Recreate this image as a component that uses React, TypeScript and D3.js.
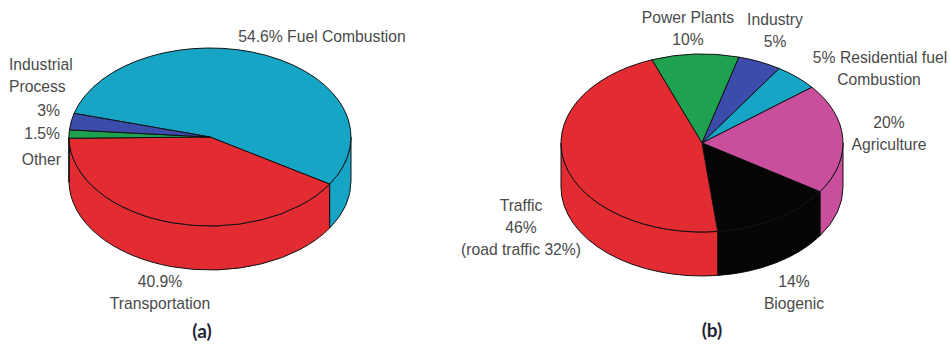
import React from "react";
import * as d3 from "d3";

// Emission shares, in drawing order (clockwise from the first slice)
const sharesA = [54.6, 40.9, 1.5, 3];
const coloursA = ["#17a5c6", "#e32b32", "#1ea24f", "#3c4cab"];

const sharesB = [10, 5, 5, 20, 14, 46];
const coloursB = ["#1ea24f", "#3c4cab", "#17a5c6", "#c94f9c", "#050505", "#e32b32"];

const labelsA = [
  { lines: ["54.6% Fuel Combustion"], x: 322, y: 42, anchor: "middle" },
  { lines: ["Industrial", "Process"], x: 9, y: 70, anchor: "start" },
  { lines: ["3%"], x: 60, y: 116, anchor: "end" },
  { lines: ["1.5%"], x: 60, y: 139, anchor: "end" },
  { lines: ["Other"], x: 61, y: 165, anchor: "end" },
  { lines: ["40.9%", "Transportation"], x: 160, y: 287, anchor: "middle" },
];

const labelsB = [
  { lines: ["Power Plants", "10%"], x: 688, y: 23, anchor: "middle" },
  { lines: ["Industry", "5%"], x: 775, y: 25, anchor: "middle" },
  { lines: ["5% Residential fuel"], x: 880, y: 63, anchor: "middle" },
  { lines: ["Combustion"], x: 879, y: 85, anchor: "middle" },
  { lines: ["20%", "Agriculture"], x: 889, y: 128, anchor: "middle" },
  { lines: ["Traffic", "46%", "(road traffic 32%)"], x: 521, y: 211, anchor: "middle" },
  { lines: ["14%", "Biogenic"], x: 794, y: 287, anchor: "middle" },
];

const RX = 141;
const RY = 89;
const DEPTH = 44;
const STROKE = "#101014";
const LINE_GAP = 22;
const deg = Math.PI / 180;

type Label = { lines: string[]; x: number; y: number; anchor: string };

function Pie3D({ values, colours, cx, cy, start }: { values: number[]; colours: string[]; cx: number; cy: number; start: number }) {
  const angle = d3.scaleLinear().domain([0, 1]).range([0, 2 * Math.PI]);
  const slices = d3
    .pie<number>()
    .sort(null)
    .startAngle(start * deg)
    .endAngle(start * deg + angle(1))(values);

  const px = (t: number) => cx + RX * Math.sin(t);
  const py = (t: number) => cy - RY * Math.cos(t);
  const arcTo = (t: number, dy: number, sweep: number, large: number) =>
    `A${RX},${RY} 0 ${large} ${sweep} ${px(t)},${py(t) + dy}`;

  // Wall segments: the part of each slice on the near half of the ellipse (90deg..270deg)
  const walls = slices.flatMap((s, i) => {
    const ranges = [0, 2 * Math.PI].map((off) => [
      Math.max(s.startAngle + off, Math.PI / 2),
      Math.min(s.endAngle + off, (3 * Math.PI) / 2),
    ]);
    return ranges
      .filter(([a, b]) => b > a)
      .map(([a, b]) => ({
        fill: colours[i],
        d:
          `M${px(a)},${py(a)}` +
          arcTo(b, 0, 1, b - a > Math.PI ? 1 : 0) +
          `L${px(b)},${py(b) + DEPTH}` +
          arcTo(a, DEPTH, 0, b - a > Math.PI ? 1 : 0) +
          "Z",
      }));
  });

  return (
    <g stroke={STROKE} strokeWidth={1} strokeLinejoin="round">
      {walls.map((w, i) => (
        <path key={i} d={w.d} fill={w.fill} />
      ))}
      {slices.map((s, i) => {
        const large = s.endAngle - s.startAngle > Math.PI ? 1 : 0;
        return (
          <path
            key={i}
            fill={colours[i]}
            d={`M${cx},${cy}L${px(s.startAngle)},${py(s.startAngle)}${arcTo(s.endAngle, 0, 1, large)}Z`}
          />
        );
      })}
    </g>
  );
}

function Labels({ items }: { items: Label[] }) {
  return (
    <g fontFamily="'Liberation Sans', Arial, sans-serif" fontSize={15.7} fill="#4a4a4a">
      {items.map((l, i) => (
        <text key={i} x={l.x} y={l.y} textAnchor={l.anchor as "start" | "middle" | "end"}>
          {l.lines.map((t, j) => (
            <tspan key={j} x={l.x} dy={j === 0 ? 0 : LINE_GAP}>
              {t}
            </tspan>
          ))}
        </text>
      ))}
    </g>
  );
}

export default function App() {
  return (
    <svg
      width={950}
      height={345}
      viewBox="0 0 950 345"
      style={{ position: "absolute", left: 0, top: 0, background: "#fff", display: "block" }}
    >
      <Pie3D values={sharesA} colours={coloursA} cx={210} cy={137} start={-74.6} />
      <Pie3D values={sharesB} colours={coloursB} cx={702} cy={143} start={-20.8} />
      <Labels items={labelsA} />
      <Labels items={labelsB} />
      <g fontFamily="Lato, 'Open Sans', sans-serif" fontWeight={700} fontSize={19} fill="#1f2433" textAnchor="middle">
        <text x={202} y={338}>(a)</text>
        <text x={712} y={337}>(b)</text>
      </g>
    </svg>
  );
}
